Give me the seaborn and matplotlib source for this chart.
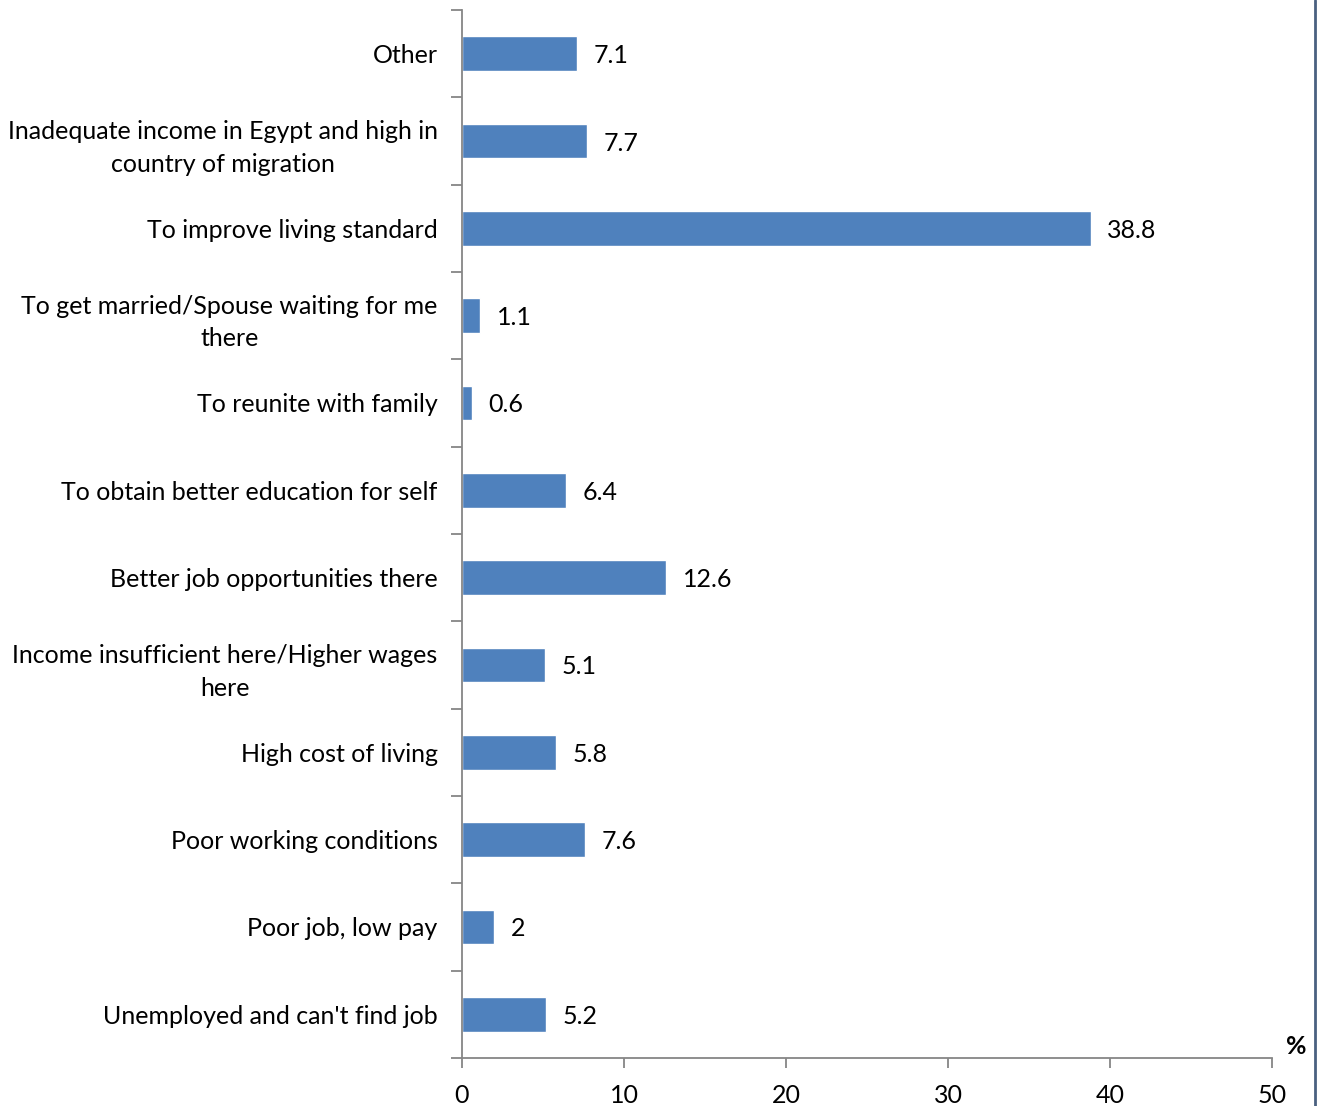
import matplotlib
matplotlib.use("Agg")
import matplotlib.pyplot as plt
import seaborn as sns
import pandas as pd
from matplotlib.lines import Line2D

reasons = [
    "Other",
    "Inadequate income in Egypt and high in\ncountry of migration",
    "To improve living standard",
    "To get married/Spouse waiting for me\nthere",
    "To reunite with family",
    "To obtain better education for self",
    "Better job opportunities there",
    "Income insufficient here/Higher wages\nhere",
    "High cost of living",
    "Poor working conditions",
    "Poor job, low pay",
    "Unemployed and can't find job",
]
shares = [7.1, 7.7, 38.8, 1.1, 0.6, 6.4, 12.6, 5.1, 5.8, 7.6, 2, 5.2]
value_labels = ["7.1", "7.7", "38.8", "1.1", "0.6", "6.4", "12.6", "5.1", "5.8", "7.6", "2", "5.2"]
x_ticks = [0, 10, 20, 30, 40, 50]

sns.set_theme(style="white")
plt.rcParams["font.family"] = ["Lato", "DejaVu Sans"]

FS = 18

df = pd.DataFrame({"reason": reasons, "share": shares})

fig = plt.figure(figsize=(13.22, 11.06), dpi=100)
ax = fig.add_axes([462 / 1322, 1 - 1058 / 1106, (1272 - 462) / 1322, (1058 - 10) / 1106])

sns.barplot(data=df, y="reason", x="share", order=reasons, color="#4F81BD",
            saturation=1, width=0.4, orient="h", ax=ax)

ax.set_xlim(0, 50)
ax.set_ylim(len(reasons) - 0.5, -0.5)
ax.set_xlabel("")
ax.set_ylabel("")

axis_grey = "#868686"
for side in ["top", "right"]:
    ax.spines[side].set_visible(False)
for side in ["left", "bottom"]:
    ax.spines[side].set_color(axis_grey)
    ax.spines[side].set_linewidth(1.3)

ax.set_xticks(x_ticks)
ax.set_xticklabels([str(t) for t in x_ticks], fontsize=FS, color="black")
ax.tick_params(axis="x", which="major", direction="out", length=7, width=1.3,
               color=axis_grey, pad=12, bottom=True)

ax.set_yticks(range(len(reasons)))
ax.set_yticklabels(reasons, fontsize=FS, color="black", multialignment="center",
                   linespacing=1.5)
ax.tick_params(axis="y", which="major", length=0, pad=17.5, left=True)
ax.set_yticks([i - 0.5 for i in range(len(reasons) + 1)], minor=True)
ax.tick_params(axis="y", which="minor", direction="out", length=8, width=1.3,
               color=axis_grey, left=True)

for i, (v, lab) in enumerate(zip(shares, value_labels)):
    ax.annotate(lab, xy=(v, i), xytext=(12, 0), textcoords="offset points",
                ha="left", va="center_baseline", fontsize=FS, color="black")

fig.text(1296 / 1322, 1 - 1046 / 1106, "%", ha="center", va="center",
         fontsize=FS, fontweight="bold", color="black")

# chart-area frame edge on the right
fig.add_artist(Line2D([1315 / 1322, 1315 / 1322], [0, 1], transform=fig.transFigure,
                      color="#4A6080", linewidth=2))

fig.savefig("out.png", dpi=100)
